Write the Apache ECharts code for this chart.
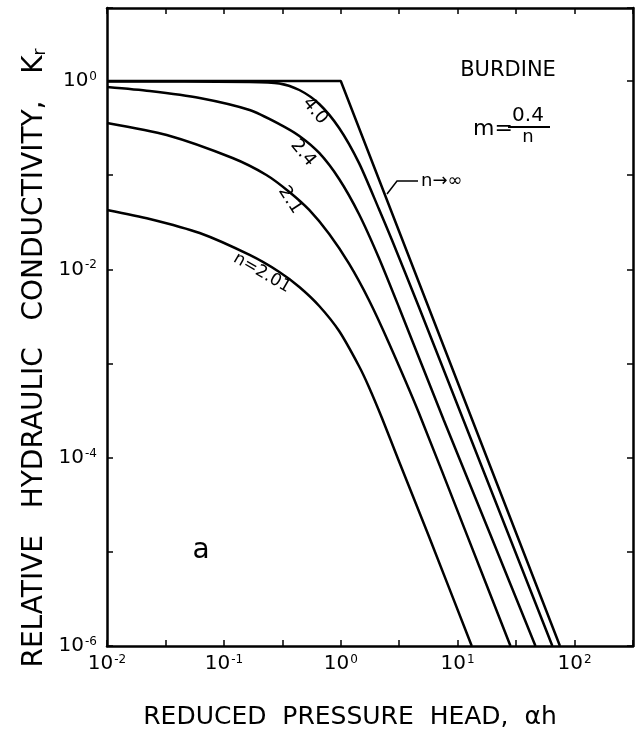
<!DOCTYPE html>
<html>
<head>
<meta charset="utf-8">
<title>Burdine relative hydraulic conductivity</title>
<script src="https://cdn.jsdelivr.net/npm/echarts@6/dist/echarts.min.js"></script>
<style>
  html, body { margin: 0; padding: 0; background: #fff; }
  #chart { width: 636px; height: 746px; }
</style>
</head>
<body>
<div id="chart"></div>
<script>
  // reduced pressure head (alpha*h) and relative conductivity Kr
  var hInf = [0.01, 1, 75];
  var kInf = [1, 1, 1e-6];

  var h40 = [0.01, 0.166, 0.298, 0.442, 0.654, 0.968, 1.43, 2.12, 2.74, 4.66, 11.2, 26.9, 64.6];
  var k40 = [0.99, 0.976, 0.941, 0.802, 0.570, 0.317, 0.135, 0.0437, 0.0205, 0.00398, 2.51e-4, 1.585e-5, 1e-6];

  var h24 = [0.01, 0.0232, 0.0621, 0.166, 0.298, 0.442, 0.654, 0.968, 1.43, 2.12, 3.14, 7.60, 18.8, 46.3];
  var k24 = [0.864, 0.783, 0.660, 0.492, 0.349, 0.261, 0.172, 0.0911, 0.0387, 0.0132, 0.00398, 2.51e-4, 1.585e-5, 1e-6];

  var h21 = [0.01, 0.0324, 0.1186, 0.231, 0.363, 0.537, 0.796, 1.18, 1.74, 2.58, 4.66, 11.5, 28.3];
  var k21 = [0.358, 0.267, 0.152, 0.1004, 0.0663, 0.0427, 0.0237, 0.0114, 0.00472, 0.00165, 2.98e-4, 1.73e-5, 1e-6];

  var h201 = [0.01, 0.0232, 0.0621, 0.166, 0.298, 0.442, 0.654, 0.968, 1.43, 1.74, 2.25, 3.14, 5.66, 13.2];
  var k201 = [0.0427, 0.0343, 0.0243, 0.0142, 0.00937, 0.00649, 0.00408, 0.00221, 9.41e-4, 5.64e-4, 2.64e-4, 9.22e-5, 1.47e-5, 1e-6];

  // decades that carry a "10^n" label
  var xLabelExp = [-2, -1, 0, 1, 2];
  var yLabelExp = [-6, -4, -2, 0];

  var font = 'DejaVu Sans';

  function toLog(hs, ks) {
    return hs.map(function (h, i) {
      return [Math.log10(h), Math.log10(ks[i])];
    });
  }

  function powLabel(list) {
    return function (v) {
      if (list.indexOf(v) < 0) return '';
      return '{b|10}{s|' + v + '}';
    };
  }

  var labelRich = {
    b: { fontSize: 20, fontFamily: font, color: '#000' },
    s: { fontSize: 12, fontFamily: font, color: '#000', verticalAlign: 'top', padding: [0, 0, 6, 1] }
  };

  var axisLine = { onZero: false, lineStyle: { color: '#000', width: 2.5 } };
  var tick = { inside: true, length: 6, lineStyle: { color: '#000', width: 1.5 } };

  function curve(name, data, smooth) {
    return {
      name: name,
      type: 'line',
      data: data,
      symbol: 'none',
      smooth: smooth ? 0.25 : false,
      lineStyle: { color: '#000', width: 2.5 }
    };
  }

  function txt(x, y, text, size, deg, align) {
    return {
      type: 'text',
      x: x,
      y: y,
      rotation: (deg || 0) * Math.PI / 180,
      style: {
        text: text,
        fontSize: size,
        fontFamily: font,
        fill: '#000',
        align: align || 'center',
        verticalAlign: 'middle',
        textAlign: align || 'center',
        textVerticalAlign: 'middle'
      }
    };
  }

  var chart = echarts.init(document.getElementById('chart'));

  chart.setOption({
    animation: false,
    backgroundColor: '#fff',
    grid: { left: 107, right: 1, top: 8, bottom: 100, containLabel: false },
    xAxis: [{
      type: 'value',
      position: 'bottom',
      min: -2,
      max: 2.5,
      interval: 0.5,
      axisLine: axisLine,
      axisTick: tick,
      splitLine: { show: false },
      axisLabel: { margin: 8, formatter: powLabel(xLabelExp), rich: labelRich }
    }, {
      type: 'value',
      position: 'top',
      min: -2,
      max: 2.5,
      interval: 0.5,
      axisLine: axisLine,
      axisTick: tick,
      splitLine: { show: false },
      axisLabel: { show: false }
    }],
    yAxis: [{
      type: 'value',
      position: 'left',
      min: -6,
      max: 0.775,
      interval: 1,
      axisLine: axisLine,
      axisTick: tick,
      splitLine: { show: false },
      axisLabel: { margin: 10, formatter: powLabel(yLabelExp), rich: labelRich }
    }, {
      type: 'value',
      position: 'right',
      min: -6,
      max: 0.775,
      interval: 1,
      axisLine: axisLine,
      axisTick: tick,
      splitLine: { show: false },
      axisLabel: { show: false }
    }],
    series: [
      curve('n=inf', toLog(hInf, kInf), false),
      curve('4.0', toLog(h40, k40), true),
      curve('2.4', toLog(h24, k24), true),
      curve('2.1', toLog(h21, k21), true),
      curve('2.01', toLog(h201, k201), true)
    ],
    graphic: [
      {
        type: 'text',
        x: 35,
        y: 358,
        rotation: Math.PI / 2,
        style: {
          text: 'RELATIVE   HYDRAULIC   CONDUCTIVITY,   {k|K}{r|r}',
          fontSize: 28,
          fontFamily: font,
          fill: '#000',
          align: 'center',
          verticalAlign: 'middle',
          rich: {
            k: { fontSize: 28, fontFamily: font, fill: '#000' },
            r: { fontSize: 17, fontFamily: font, fill: '#000', verticalAlign: 'bottom' }
          }
        }
      },
      txt(350, 717, 'REDUCED  PRESSURE  HEAD,  \u03b1h', 25),
      txt(508, 71, 'BURDINE', 21),
      txt(473, 129, 'm=', 22, 0, 'left'),
      txt(528, 116, '0.4', 20),
      { type: 'line', shape: { x1: 508, y1: 127, x2: 550, y2: 127 }, style: { stroke: '#000', lineWidth: 2 } },
      txt(528, 137, 'n', 18),
      txt(421, 181, 'n\u2192\u221e', 18, 0, 'left'),
      { type: 'polyline', shape: { points: [[418, 181], [397, 181], [387, 194]] }, style: { stroke: '#000', lineWidth: 1.5, fill: null } },
      txt(201, 551, 'a', 28),
      txt(315, 111, '4.0', 18, -50),
      txt(303, 153, '2.4', 18, -50),
      txt(290, 200, '2.1', 18, -57),
      txt(262, 273, 'n=2.01', 17, -30)
    ]
  });
</script>
</body>
</html>
